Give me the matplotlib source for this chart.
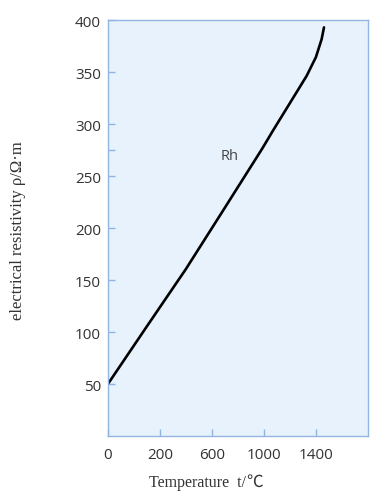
import matplotlib.pyplot as plt

# values (x in the chart's own axis units)
temp = [0, 300, 600, 877, 1185, 1272, 1400, 1528, 1600, 1644, 1662]
rho = [50.0, 105.5, 160.6, 215.1, 276.0, 294.2, 320.2, 346.2, 364.4, 381.7, 393.0]

xtick_pos = [0, 400, 800, 1200, 1600]
xtick_labels = ['0', '200', '600', '1000', '1400']
ytick_pos = [50, 100, 150, 200, 250, 275, 300, 350, 400]
ytick_labels = ['50', '100', '150', '200', '250', '', '300', '350', '400']

edge = '#93b5e1'
txt = '#333333'
serif = ['Liberation Serif', 'DejaVu Serif']

fig = plt.figure(figsize=(3.91, 5.02), dpi=100)
ax = fig.add_axes([0.276, 0.1295, 0.665, 0.8285])
ax.set_facecolor('#e8f2fd')

ax.plot(temp, rho, color='black', lw=1.9, solid_capstyle='round',
        solid_joinstyle='round')
ax.text(938, 270, 'Rh', fontsize=10.5, color='#444444', family='Open Sans',
        ha='center', va='center')

ax.set_xlim(0, 2000)
ax.set_ylim(0, 400)
ax.set_xticks(xtick_pos)
ax.set_xticklabels(xtick_labels)
ax.set_yticks(ytick_pos)
ax.set_yticklabels(ytick_labels)

for s in ax.spines.values():
    s.set_color(edge)
    s.set_linewidth(1.0)
ax.tick_params(direction='in', length=5, width=1.0, color=edge,
               labelsize=11, labelcolor=txt)
ax.tick_params(axis='y', pad=5)
ax.tick_params(axis='x', pad=8)
for lab in ax.get_xticklabels() + ax.get_yticklabels():
    lab.set_family('Open Sans')

# axis titles (x title sits left of centre in the original)
xl = fig.text(149 / 391, 1 - 483 / 502, 'Temperature  t/', fontsize=11.5,
              color=txt, family=serif, ha='left', va='center')
ax.annotate('℃', xy=(1, 0), xycoords=xl, ha='left', va='bottom',
            fontsize=12, color=txt, family='Noto Sans CJK JP')
fig.text(18 / 391, 1 - 231 / 502, 'electrical resistivity ρ/Ω·m', fontsize=12,
         color=txt, family=serif, rotation=90, ha='center', va='center')

fig.savefig('out.png', dpi=100)
